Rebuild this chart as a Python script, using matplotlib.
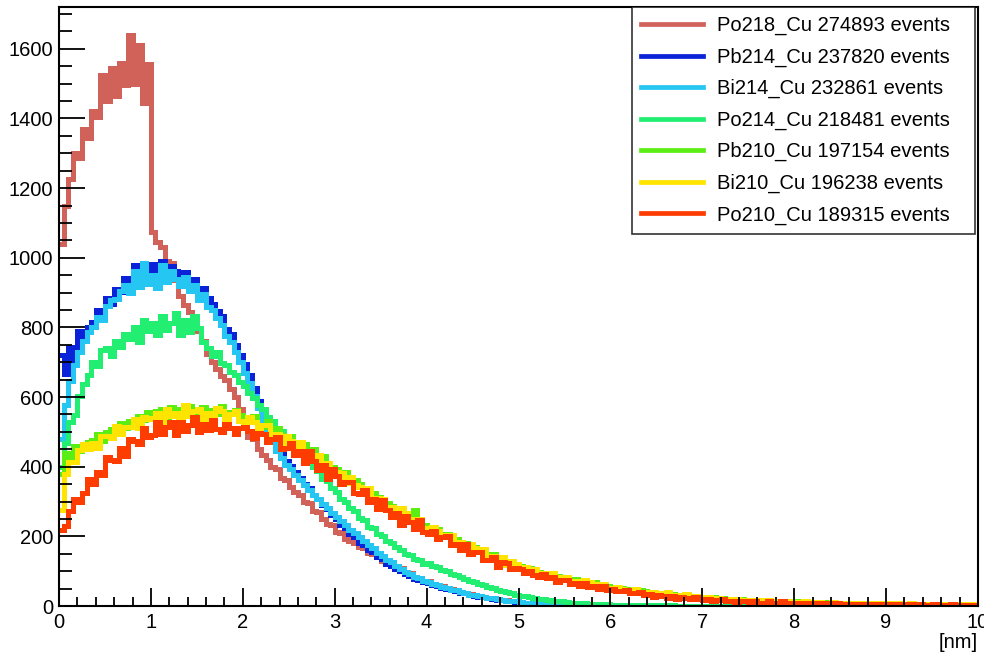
import numpy as np
import matplotlib
matplotlib.use("Agg")
import matplotlib.pyplot as plt
from matplotlib import font_manager
from matplotlib.ticker import MultipleLocator
from matplotlib.lines import Line2D

# Depth distributions, 200 bins of 0.05 nm from 0 to 10 nm (one row per nm)
po218_cu = [
    1040, 1150, 1225, 1300, 1285, 1370, 1345, 1420, 1405, 1525, 1450, 1545, 1465, 1560, 1495, 1640, 1500, 1610, 1445, 1555,
    1075, 1045, 1030, 990, 985, 935, 890, 865, 845, 815, 790, 760, 725, 700, 680, 660, 648, 622, 600, 565,
    520, 486, 480, 452, 434, 420, 398, 392, 368, 362, 341, 326, 320, 298, 295, 272, 270, 250, 236, 232,
    212, 211, 192, 186, 182, 168, 166, 152, 150, 144, 130, 129, 117, 112, 108, 97, 94, 84, 81, 73,
    71, 63, 61, 57, 50, 48, 43, 41, 36, 35, 30, 29, 25, 24, 20, 20, 16, 16, 13, 12,
    11, 10, 9, 8, 7, 7, 6, 5, 5, 4, 4, 3, 3, 3, 2, 2, 2, 2, 1, 1,
    1, 1, 1, 1, 1, 1, 0, 1, 0, 0, 0, 0, 0, 0, 0, 0, 0, 0, 0, 0,
    0, 0, 0, 0, 0, 0, 0, 0, 0, 0, 0, 0, 0, 0, 0, 0, 0, 0, 0, 0,
    0, 0, 0, 0, 0, 0, 0, 0, 0, 0, 0, 0, 0, 0, 0, 0, 0, 0, 0, 0,
    0, 0, 0, 0, 0, 0, 0, 0, 0, 0, 0, 0, 0, 0, 0, 0, 0, 0, 0, 0,
]
pb214_cu = [
    720, 665, 745, 700, 790, 765, 800, 815, 850, 835, 885, 868, 910, 902, 942, 925, 978, 945, 962, 955,
    982, 950, 992, 958, 975, 962, 950, 958, 932, 940, 905, 912, 885, 868, 846, 832, 796, 782, 750, 722,
    696, 664, 626, 590, 552, 514, 480, 458, 436, 416, 402, 384, 368, 350, 338, 320, 306, 290, 278, 262,
    250, 234, 224, 206, 198, 182, 174, 160, 154, 140, 134, 121, 116, 105, 100, 91, 87, 78, 76, 68,
    66, 61, 58, 52, 50, 45, 43, 38, 36, 32, 30, 26, 25, 22, 20, 18, 17, 14, 13, 12,
    10, 10, 8, 8, 7, 6, 6, 5, 4, 4, 3, 3, 3, 2, 2, 2, 1, 2, 1, 1,
    1, 1, 1, 0, 1, 0, 0, 1, 0, 0, 0, 0, 0, 0, 0, 0, 0, 0, 0, 0,
    0, 0, 0, 0, 0, 0, 0, 0, 0, 0, 0, 0, 0, 0, 0, 0, 0, 0, 0, 0,
    0, 0, 0, 0, 0, 0, 0, 0, 0, 0, 0, 0, 0, 0, 0, 0, 0, 0, 0, 0,
    0, 0, 0, 0, 0, 0, 0, 0, 0, 0, 0, 0, 0, 0, 0, 0, 0, 0, 0, 0,
]
bi214_cu = [
    480, 578, 645, 692, 728, 762, 788, 802, 830, 822, 862, 878, 882, 905, 922, 898, 962, 915, 985, 925,
    950, 912, 978, 930, 962, 940, 918, 946, 905, 922, 880, 896, 858, 850, 826, 808, 776, 758, 728, 700,
    668, 640, 602, 568, 534, 504, 470, 446, 424, 406, 394, 376, 362, 348, 334, 318, 306, 292, 280, 268,
    256, 244, 233, 219, 211, 197, 187, 175, 166, 151, 143, 131, 125, 114, 107, 97, 92, 84, 80, 72,
    70, 63, 61, 55, 53, 47, 45, 40, 38, 33, 32, 28, 26, 23, 22, 19, 18, 15, 14, 13,
    11, 10, 9, 8, 7, 7, 6, 5, 5, 4, 4, 3, 3, 2, 2, 2, 2, 1, 1, 1,
    1, 1, 1, 1, 0, 1, 0, 0, 1, 0, 0, 0, 0, 0, 0, 0, 0, 0, 0, 0,
    0, 0, 0, 0, 0, 0, 0, 0, 0, 0, 0, 0, 0, 0, 0, 0, 0, 0, 0, 0,
    0, 0, 0, 0, 0, 0, 0, 0, 0, 0, 0, 0, 0, 0, 0, 0, 0, 0, 0, 0,
    0, 0, 0, 0, 0, 0, 0, 0, 0, 0, 0, 0, 0, 0, 0, 0, 0, 0, 0, 0,
]
po214_cu = [
    400, 468, 528, 548, 602, 638, 662, 702, 688, 736, 742, 718, 762, 745, 782, 768, 802, 758, 822, 790,
    812, 778, 832, 792, 812, 842, 778, 822, 786, 832, 798, 758, 742, 718, 728, 698, 692, 672, 662, 642,
    632, 612, 598, 578, 566, 542, 532, 512, 502, 482, 472, 452, 446, 428, 416, 398, 388, 366, 358, 338,
    328, 308, 300, 282, 274, 254, 248, 228, 224, 208, 202, 186, 182, 168, 162, 148, 146, 134, 132, 122,
    124, 116, 112, 104, 100, 92, 89, 82, 78, 72, 68, 62, 59, 54, 51, 46, 43, 39, 36, 33,
    30, 28, 25, 23, 21, 19, 17, 15, 14, 13, 11, 10, 9, 8, 8, 7, 6, 6, 5, 5,
    4, 4, 4, 3, 3, 3, 3, 2, 2, 2, 2, 2, 1, 2, 1, 1, 1, 1, 1, 1,
    1, 1, 0, 1, 0, 0, 1, 0, 0, 0, 0, 0, 0, 0, 0, 0, 0, 0, 0, 0,
    0, 0, 0, 0, 0, 0, 0, 0, 0, 0, 0, 0, 0, 0, 0, 0, 0, 0, 0, 0,
    0, 0, 0, 0, 0, 0, 0, 0, 0, 0, 0, 0, 0, 0, 0, 0, 0, 0, 0, 0,
]
pb210_cu = [
    380, 440, 425, 458, 445, 455, 470, 478, 495, 475, 500, 508, 505, 525, 512, 530, 528, 545, 535, 556,
    548, 560, 565, 540, 572, 548, 566, 552, 574, 540, 558, 570, 545, 562, 550, 575, 545, 558, 562, 548,
    542, 528, 545, 520, 515, 530, 505, 512, 490, 478, 488, 470, 460, 466, 442, 450, 425, 430, 412, 398,
    392, 378, 385, 360, 362, 350, 338, 330, 325, 312, 300, 296, 288, 276, 272, 262, 258, 275, 240, 232,
    226, 215, 220, 204, 208, 196, 192, 180, 182, 170, 168, 158, 162, 148, 150, 138, 140, 128, 130, 122,
    116, 108, 110, 100, 98, 96, 90, 92, 86, 84, 80, 76, 78, 70, 72, 66, 68, 62, 60, 58,
    54, 52, 52, 48, 48, 44, 45, 42, 40, 40, 38, 36, 37, 34, 33, 32, 32, 29, 29, 27,
    26, 24, 25, 22, 23, 21, 21, 19, 20, 18, 18, 17, 17, 16, 16, 15, 15, 14, 14, 13,
    13, 12, 12, 12, 11, 11, 11, 10, 10, 10, 9, 9, 9, 9, 8, 8, 8, 8, 7, 7,
    7, 7, 7, 6, 6, 6, 6, 6, 5, 5, 5, 5, 5, 5, 4, 4, 4, 4, 4, 4,
]
bi210_cu = [
    275, 378, 414, 413, 448, 464, 450, 467, 454, 489, 489, 483, 517, 493, 515, 514, 538, 512, 542, 538,
    541, 554, 527, 566, 545, 555, 538, 576, 545, 559, 566, 530, 554, 544, 569, 559, 530, 551, 560, 530,
    525, 543, 528, 503, 520, 521, 492, 493, 466, 488, 474, 454, 472, 433, 440, 424, 434, 394, 410, 393,
    384, 382, 354, 370, 347, 343, 323, 339, 309, 311, 307, 276, 284, 269, 280, 266, 241, 249, 249, 225,
    218, 226, 214, 197, 205, 204, 184, 183, 165, 177, 167, 154, 163, 140, 144, 135, 141, 117, 128, 120,
    111, 111, 97, 105, 94, 94, 85, 95, 82, 83, 82, 68, 73, 68, 74, 68, 57, 63, 64, 53,
    50, 55, 50, 42, 47, 48, 40, 41, 34, 40, 38, 33, 39, 28, 32, 29, 34, 23, 30, 26,
    23, 25, 19, 23, 19, 20, 16, 21, 16, 18, 18, 13, 16, 14, 18, 15, 12, 15, 15, 11,
    12, 11, 13, 10, 11, 12, 9, 10, 11, 9, 10, 8, 10, 9, 8, 10, 8, 9, 7, 9,
    8, 7, 9, 7, 6, 8, 7, 6, 7, 5, 7, 6, 5, 7, 6, 5, 6, 4, 6, 5,
]
po210_cu = [
    218, 231, 272, 306, 300, 325, 364, 351, 385, 375, 429, 420, 416, 453, 430, 479, 475, 466, 512, 485,
    491, 528, 494, 514, 529, 492, 527, 503, 520, 542, 501, 524, 505, 533, 509, 500, 524, 512, 495, 511,
    515, 502, 483, 497, 493, 470, 480, 484, 452, 453, 469, 433, 444, 412, 445, 415, 390, 406, 364, 394,
    374, 351, 355, 355, 325, 322, 333, 300, 306, 278, 303, 277, 255, 268, 234, 259, 242, 221, 246, 212,
    208, 216, 193, 197, 200, 176, 177, 160, 178, 150, 156, 156, 131, 132, 141, 113, 126, 123, 106, 110,
    106, 94, 101, 89, 84, 92, 79, 83, 70, 75, 75, 63, 65, 57, 66, 55, 58, 49, 56, 46,
    49, 42, 44, 45, 36, 36, 40, 32, 35, 27, 33, 30, 24, 28, 21, 27, 24, 20, 25, 19,
    18, 20, 15, 18, 19, 13, 15, 11, 15, 14, 10, 15, 10, 9, 13, 10, 8, 13, 8, 10,
    10, 8, 9, 7, 10, 8, 6, 8, 7, 9, 6, 7, 5, 7, 6, 4, 7, 5, 6, 4,
    6, 4, 5, 6, 4, 5, 3, 5, 4, 3, 5, 4, 2, 4, 5, 3, 4, 2, 3, 3,
]

names = ["Po218_Cu", "Pb214_Cu", "Bi214_Cu", "Po214_Cu", "Pb210_Cu", "Bi210_Cu", "Po210_Cu"]
events = [274893, 237820, 232861, 218481, 197154, 196238, 189315]
series = [po218_cu, pb214_cu, bi214_cu, po214_cu, pb210_cu, bi210_cu, po210_cu]
colors = ["#d0625a", "#0a22d8", "#25c6f2", "#22ee72", "#5aee14", "#ffe400", "#ff3c00"]

x_min, x_max, n_bins = 0.0, 10.0, 200
edges = np.linspace(x_min, x_max, n_bins + 1)

available = {f.name for f in font_manager.fontManager.ttflist}
if "Liberation Sans Narrow" in available:
    family, tick_size, leg_size = "Liberation Sans Narrow", 16.5, 17
else:
    family, tick_size, leg_size = "Liberation Sans", 14.5, 14.5
plt.rcParams["font.family"] = [family, "DejaVu Sans"]

fig = plt.figure(figsize=(9.84, 6.63), dpi=100)
ax = fig.add_axes([59 / 984, 1 - 606 / 663, (978 - 59) / 984, (606 - 7) / 663])

lw = 3.6
for vals, col in zip(series, colors):
    ax.stairs(vals, edges, color=col, lw=lw, baseline=None)

ax.set_xlim(x_min, x_max)
ax.set_ylim(0, 1720)

ax.xaxis.set_major_locator(MultipleLocator(1))
ax.xaxis.set_minor_locator(MultipleLocator(0.2))
ax.yaxis.set_major_locator(MultipleLocator(200))
ax.yaxis.set_minor_locator(MultipleLocator(50))
ax.tick_params(which="both", direction="in", top=False, right=False,
               labelsize=tick_size, colors="black")
ax.tick_params(axis="y", which="major", length=19, width=1.3, pad=4)
ax.tick_params(axis="y", which="minor", length=9.5, width=1.3)
ax.tick_params(axis="x", which="major", length=13, width=1.3, pad=5)
ax.tick_params(axis="x", which="minor", length=6.5, width=1.3)
for sp in ax.spines.values():
    sp.set_linewidth(1.5)

ax.text(1.0, -0.045, "[nm]", transform=ax.transAxes, ha="right", va="top",
        fontsize=tick_size)

handles = [Line2D([], [], color=c, lw=3.4) for c in colors]
labels = [f"{n} {e} events" for n, e in zip(names, events)]
leg = ax.legend(handles, labels, loc="upper left",
                bbox_to_anchor=(0.6235, 1.0, 0.373, 0.0), mode="expand",
                borderaxespad=0, fancybox=False, frameon=True,
                edgecolor="black", fontsize=leg_size,
                handlelength=3.1, handletextpad=0.65, labelspacing=0.61,
                borderpad=0.45)
leg.get_frame().set_linewidth(1.2)

fig.savefig("out.png", dpi=100)
